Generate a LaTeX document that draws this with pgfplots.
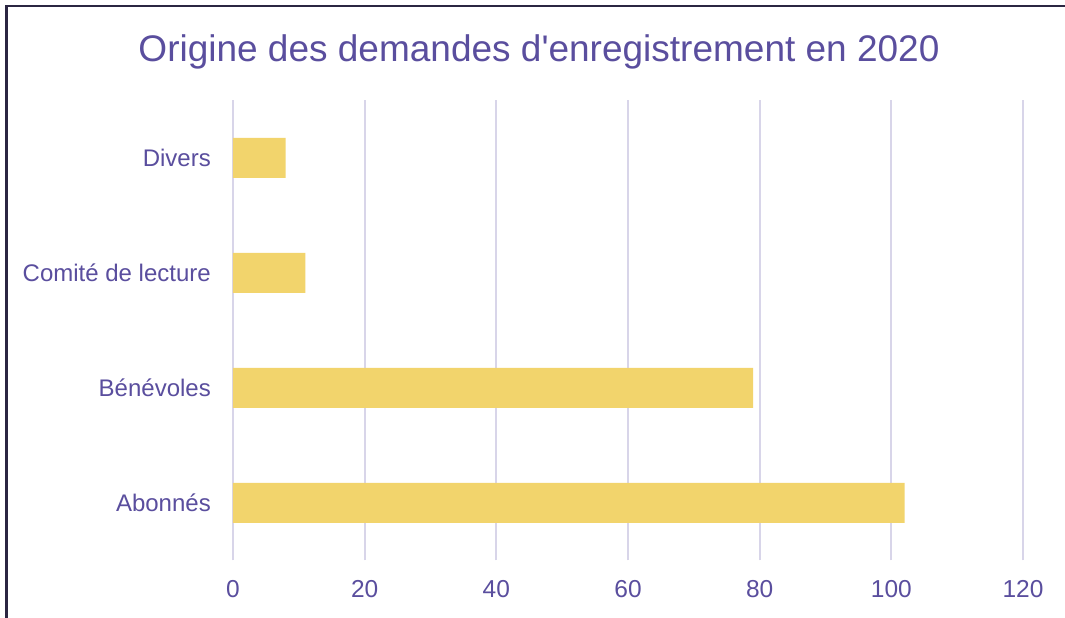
\documentclass[border=0pt]{standalone}
\usepackage{fontspec}
\setmainfont{Liberation Sans}[Ligatures=TeXOff]
\usepackage{pgfplots}
\pgfplotsset{compat=1.18}
\definecolor{txt}{HTML}{5A4E9E}
\definecolor{barc}{HTML}{F2D46C}
\definecolor{gridc}{HTML}{D8D5E9}
\definecolor{frame}{HTML}{2B2642}
\begin{document}
\begin{tikzpicture}[x=1pt,y=1pt]
\useasboundingbox (0,0) rectangle (1065,618);
\fill[white] (0,0) rectangle (1065,618);
\draw[frame, line width=2.2pt] (6.5,-5) -- (6.5,612) -- (1070,612);
\node[anchor=base, text=txt, inner sep=0pt] at (539,556.5) {\fontsize{37}{44}\selectfont Origine des demandes d'enregistrement en 2020};
\begin{axis}[
  at={(233pt,57.5pt)}, anchor=south west,
  scale only axis, width=790pt, height=460pt,
  xbar, bar width=40pt,
  xmin=0, xmax=120, ymin=-0.5, ymax=3.5,
  xtick={0,20,40,60,80,100,120},
  ytick={0,1,2,3},
  yticklabels={Abonnés,Bénévoles,Comité de lecture,Divers},
  axis line style={draw=none},
  major tick length=0pt,
  xmajorgrids, grid style={gridc, line width=2pt},
  /pgf/number format/assume math mode=true,
  xticklabel style={anchor=base, inner sep=0pt, yshift=-37.5pt, text=txt, font=\fontsize{24.5}{29}\selectfont},
  yticklabel style={anchor=east, inner sep=0pt, xshift=-22pt, text=txt, font=\fontsize{24}{29}\selectfont},
  clip=false,
]
\addplot[fill=barc, draw=none] coordinates {(102,0) (79,1) (11,2) (8,3)};
\end{axis}
\end{tikzpicture}
\end{document}
